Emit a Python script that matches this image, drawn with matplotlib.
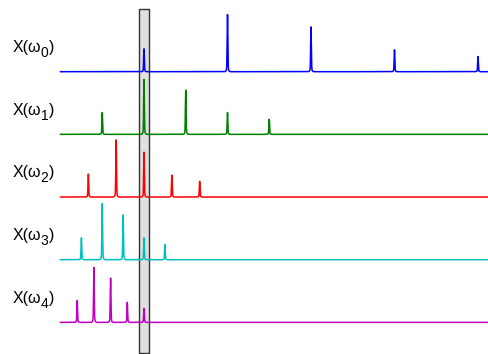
import numpy as np
import matplotlib
matplotlib.use("Agg")
import matplotlib.pyplot as plt
from matplotlib.patches import Rectangle

plt.rcParams['font.family'] = ['Liberation Sans', 'DejaVu Sans']

# fundamental frequency of each row (relative to row 0)
fundamentals = [1.0, 1 / 2, 1 / 3, 1 / 4, 1 / 5]
harmonics = [1, 2, 3, 4, 5]
# peak heights of the harmonics in each row (normalised)
amps = [
    [0.41, 1.02, 0.80, 0.39, 0.27],
    [0.39, 0.98, 0.79, 0.39, 0.27],
    [0.41, 1.02, 0.80, 0.39, 0.28],
    [0.39, 1.00, 0.80, 0.39, 0.27],
    [0.39, 0.98, 0.79, 0.36, 0.25],
]
subscripts = ['0', '1', '2', '3', '4']
colors = ['#0000ff', '#008000', '#ff0000', '#00bfbf', '#bf00bf']
row_step = 1.119

fig = plt.figure(figsize=(4.89, 3.54), dpi=100)
ax = fig.add_axes([0, 0, 1, 1])
ax.set_xlim(-0.7246, 5.132)
ax.set_ylim(-5.041, 1.280)
ax.axis('off')

f = np.linspace(0, 5.2, 26000)
skirt = 0.06
for k in range(5):
    base = -k * row_step
    spec = np.zeros_like(f)
    for h, a in zip(harmonics, amps[k]):
        fc = h * fundamentals[k]
        shape = np.exp(-0.5 * ((f - fc) / 0.004) ** 2) + skirt * np.exp(-0.5 * ((f - fc) / 0.012) ** 2)
        spec += a * shape / (1 + skirt)
    ax.plot(f, base + spec, color=colors[k], lw=1.1, zorder=3)

    # label X(w_k) with a large subscript
    t1 = ax.text(-0.569, base + 0.30, 'X(\u03c9', fontsize=11.5, va='bottom', ha='left')
    t2 = ax.annotate(subscripts[k], xy=(1, 0), xycoords=t1, xytext=(-0.6, -3.8),
                     textcoords='offset points', fontsize=10, va='bottom', ha='left')
    ax.annotate(')', xy=(1, 0), xycoords=(t2, t1), xytext=(0.2, 0),
                textcoords='offset points', fontsize=11.5, va='bottom', ha='left')

ax.add_patch(Rectangle((0.944, -5.018), 0.119, 6.132, facecolor='0.88',
                       edgecolor='0.2', lw=1.0, zorder=2))

fig.savefig('out.png', dpi=100)
